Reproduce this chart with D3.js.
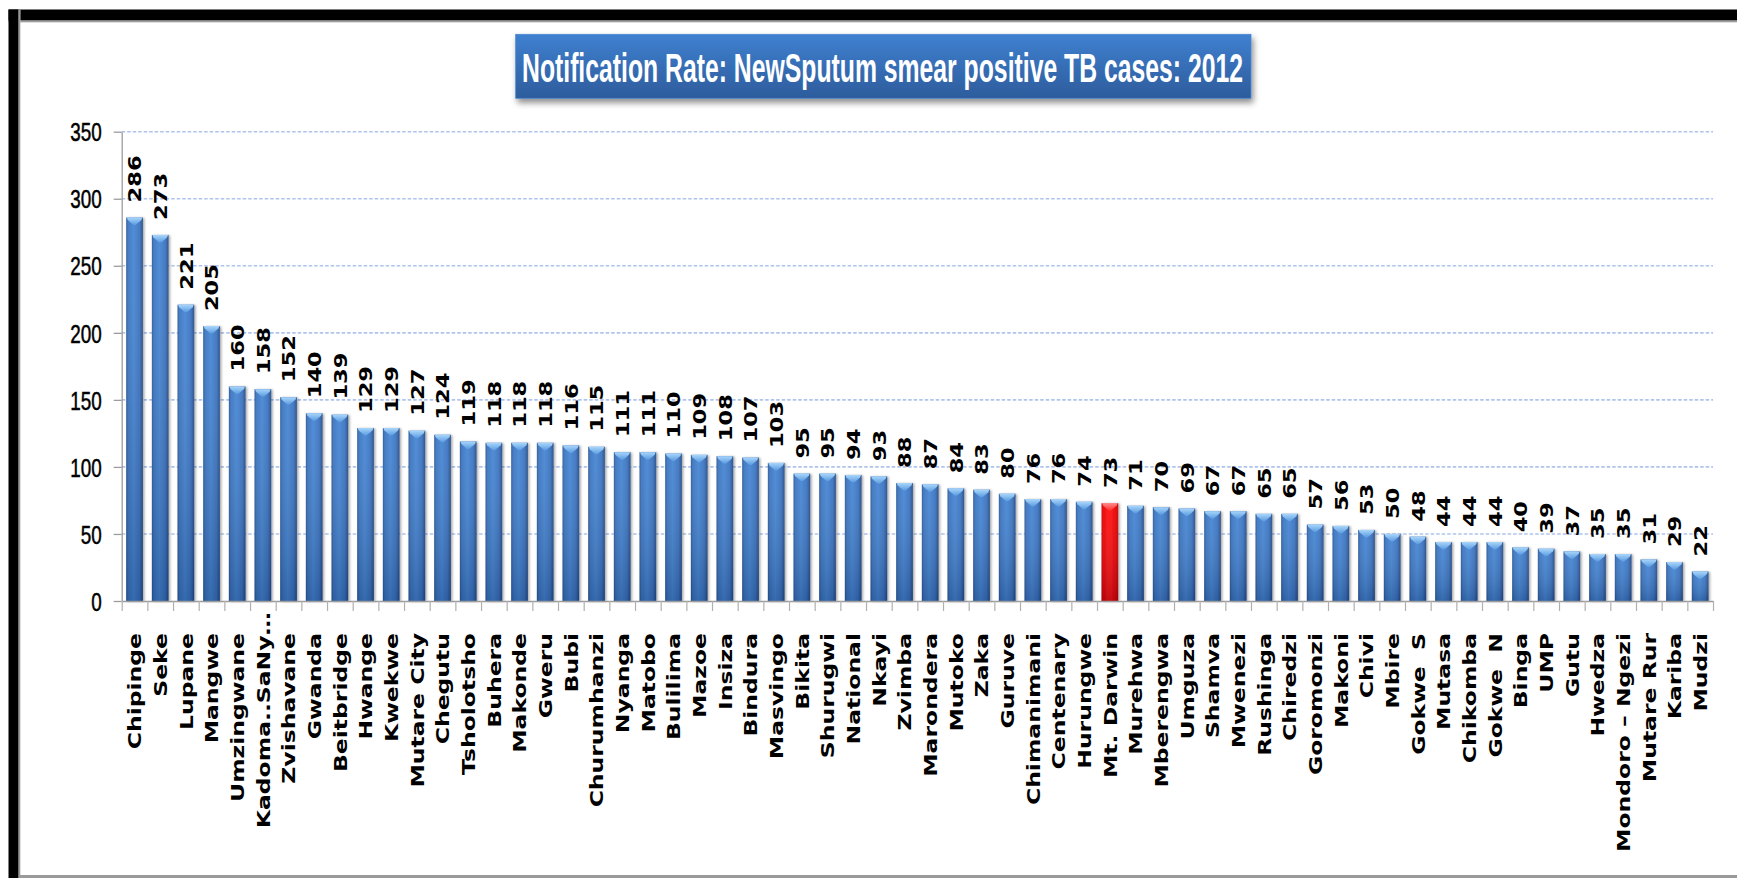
<!DOCTYPE html>
<html>
<head>
<meta charset="utf-8">
<script src="https://cdn.jsdelivr.net/npm/d3@7"></script>
<style>
  html, body { margin: 0; padding: 0; background: #fff; overflow: hidden; }
  svg { display: block; }
</style>
</head>
<body>
<svg id="chart" width="1737" height="878"></svg>
<script>
// Districts ranked by notification rate (new sputum smear positive TB, 2012)
const districts = [
  "Chipinge", "Seke", "Lupane", "Mangwe", "Umzingwane", "Kadoma..SaNy\u2026", "Zvishavane",
  "Gwanda", "Beitbridge", "Hwange", "Kwekwe", "Mutare City", "Chegutu", "Tsholotsho",
  "Buhera", "Makonde", "Gweru", "Bubi", "Churumhanzi", "Nyanga", "Matobo", "Bulilima",
  "Mazoe", "Insiza", "Bindura", "Masvingo", "Bikita", "Shurugwi", "National", "Nkayi",
  "Zvimba", "Marondera", "Mutoko", "Zaka", "Guruve", "Chimanimani", "Centenary",
  "Hurungwe", "Mt. Darwin", "Murehwa", "Mberengwa", "Umguza", "Shamva", "Mwenezi",
  "Rushinga", "Chiredzi", "Goromonzi", "Makoni", "Chivi", "Mbire", "Gokwe  S", "Mutasa",
  "Chikomba", "Gokwe  N", "Binga", "UMP", "Gutu", "Hwedza", "Mondoro \u2013 Ngezi",
  "Mutare Rur", "Kariba", "Mudzi"
];

const rates = [
  286, 273, 221, 205, 160, 158, 152,
  140, 139, 129, 129, 127, 124, 119,
  118, 118, 118, 116, 115, 111, 111, 110,
  109, 108, 107, 103, 95, 95, 94, 93,
  88, 87, 84, 83, 80, 76, 76,
  74, 73, 71, 70, 69, 67, 67,
  65, 65, 57, 56, 53, 50, 48, 44,
  44, 44, 40, 39, 37, 35, 35,
  31, 29, 22
];

const highlightDistrict = "Mt. Darwin";
const yTicks = [0, 50, 100, 150, 200, 250, 300, 350];
const chartTitle = "Notification Rate: NewSputum smear positive TB cases: 2012";

const svg = d3.select("#chart");
const W = 1737, H = 878;
const plot = { left: 121.7, right: 1713, top: 131.7, bottom: 601 };

svg.append("rect").attr("width", W).attr("height", H).attr("fill", "#fff");

// ---------- definitions ----------
const defs = svg.append("defs");

function hGrad(id, stops) {
  const g = defs.append("linearGradient").attr("id", id)
    .attr("x1", "0").attr("y1", "0").attr("x2", "1").attr("y2", "0");
  stops.forEach(([o, c, a]) => g.append("stop").attr("offset", o).attr("stop-color", c)
    .attr("stop-opacity", a == null ? 1 : a));
}
function vGrad(id, stops) {
  const g = defs.append("linearGradient").attr("id", id)
    .attr("x1", "0").attr("y1", "0").attr("x2", "0").attr("y2", "1");
  stops.forEach(([o, c, a]) => g.append("stop").attr("offset", o).attr("stop-color", c)
    .attr("stop-opacity", a == null ? 1 : a));
}

hGrad("barBlue", [["0", "#2a5795"], ["0.12", "#3a74c0"], ["0.45", "#4585d3"], ["0.8", "#3a72bf"], ["1", "#244b85"]]);
hGrad("barRed", [["0", "#c80000"], ["0.12", "#ee0000"], ["0.45", "#ff1010"], ["0.8", "#f00000"], ["1", "#c00000"]]);
vGrad("barShade", [["0", "#ffffff", 0.06], ["1", "#001030", 0.22]]);
vGrad("capBlue", [["0", "#a9d6fb"], ["1", "#5a9be0"]]);
vGrad("capRed", [["0", "#ff8a8a"], ["1", "#ff3030"]]);
vGrad("titleFill", [["0", "#3f80d0"], ["1", "#2d5c9c"]]);
vGrad("frameTop", [["0", "#000"], ["0.78", "#000"], ["0.8", "#6e6e6e"], ["1", "#bdbdbd"]]);
hGrad("frameLeft", [["0", "#000"], ["0.8", "#000"], ["0.82", "#6e6e6e"], ["1", "#bdbdbd"]]);

const shadow = defs.append("filter").attr("id", "boxShadow")
  .attr("x", "-5%").attr("y", "-20%").attr("width", "112%").attr("height", "150%");
shadow.append("feDropShadow").attr("dx", 2).attr("dy", 4).attr("stdDeviation", 3)
  .attr("flood-color", "#000").attr("flood-opacity", 0.45);

const barShadow = defs.append("filter").attr("id", "barShadow")
  .attr("x", "-30%").attr("y", "-5%").attr("width", "170%").attr("height", "115%");
barShadow.append("feDropShadow").attr("dx", 1.5).attr("dy", 0.5).attr("stdDeviation", 1.2)
  .attr("flood-color", "#000").attr("flood-opacity", 0.35);

// ---------- slide frame ----------
svg.append("rect").attr("x", 8.5).attr("y", 9.5).attr("width", W - 8.5).attr("height", 13)
  .attr("fill", "url(#frameTop)");
svg.append("rect").attr("x", 8.5).attr("y", 9.5).attr("width", 12).attr("height", H - 9.5)
  .attr("fill", "url(#frameLeft)");
svg.append("rect").attr("x", 20).attr("y", 875).attr("width", W - 20).attr("height", 3)
  .attr("fill", "#9a9a9a");

// ---------- scales ----------
const x = d3.scaleBand().domain(districts).range([plot.left, plot.right])
  .paddingInner(0.35).paddingOuter(0.175);
const y = d3.scaleLinear().domain([0, 350]).range([plot.bottom, plot.top]);
const edges = d3.scaleLinear().domain([0, districts.length]).range([plot.left, plot.right]);

// ---------- gridlines ----------
svg.append("g").selectAll("line")
  .data(yTicks.filter(t => t > 0))
  .join("line")
  .attr("x1", plot.left).attr("x2", plot.right)
  .attr("y1", d => y(d)).attr("y2", d => y(d))
  .attr("stroke", "#aec4ec").attr("stroke-width", 1.6).attr("stroke-dasharray", "3.5,2");

// ---------- bars ----------
const data = districts.map((name, i) => ({ name, value: rates[i], hot: name === highlightDistrict }));
const bw = x.bandwidth();

const bars = svg.append("g").selectAll("g").data(data).join("g");
bars.append("rect")
  .attr("x", d => x(d.name)).attr("y", d => y(d.value))
  .attr("width", bw).attr("height", d => y(0) - y(d.value))
  .attr("fill", d => d.hot ? "url(#barRed)" : "url(#barBlue)")
  .attr("filter", "url(#barShadow)");
bars.append("rect")
  .attr("x", d => x(d.name)).attr("y", d => y(d.value))
  .attr("width", bw).attr("height", d => y(0) - y(d.value))
  .attr("fill", "url(#barShade)");
bars.append("path")
  .attr("d", d => {
    const x0 = x(d.name), x1 = x0 + bw, t = y(d.value), c = x0 + bw / 2;
    return `M${x0 + 0.5},${t} L${x1 - 0.5},${t} L${x1 - 1.5},${t + 2.5} L${c + 1},${t + 7.5} L${c - 1},${t + 7.5} L${x0 + 1.5},${t + 2.5} Z`;
  })
  .attr("fill", d => d.hot ? "url(#capRed)" : "url(#capBlue)");

// ---------- axes ----------
const yAxis = svg.append("g").attr("transform", `translate(${plot.left},0)`)
  .call(d3.axisLeft(y).tickValues(yTicks).tickSize(8).tickSizeOuter(0).tickFormat(d3.format("d")));
yAxis.select(".domain").attr("stroke", "#9c9c9c").attr("stroke-width", 1.3);
yAxis.selectAll(".tick line").attr("stroke", "#9c9c9c").attr("stroke-width", 1.3);
yAxis.selectAll(".tick text")
  .attr("x", -20 / 0.74).attr("dy", "0.36em")
  .attr("transform", "scale(0.74,1)")
  .attr("fill", "#000").attr("stroke", "#000").attr("stroke-width", 0.5)
  .style("font-family", "'Liberation Sans', Arial, sans-serif")
  .style("font-size", "25.5px");

const xAxis = svg.append("g").attr("transform", `translate(0,${plot.bottom})`)
  .call(d3.axisBottom(edges).tickValues(d3.range(districts.length + 1)).tickSize(10)
    .tickSizeOuter(0).tickFormat(""));
xAxis.select(".domain").attr("stroke", "#9c9c9c").attr("stroke-width", 1.3);
xAxis.selectAll(".tick line").attr("stroke", "#b0b0b0").attr("stroke-width", 1.2);

// ---------- value labels ----------
const labelFont = "'DejaVu Sans', Verdana, sans-serif";
const labelSize = 18.5;
const capHalf = 0.729 * labelSize / 2;
svg.append("g").selectAll("text").data(data).join("text")
  .attr("transform", d => `translate(${x(d.name) + bw / 2 + capHalf},${y(d.value) - 15}) rotate(-90) scale(1.22,1)`)
  .attr("text-anchor", "start")
  .style("font-family", labelFont).style("font-weight", "bold").style("font-size", labelSize + "px")
  .attr("fill", "#000")
  .text(d => d.value);

// ---------- category labels ----------
svg.append("g").selectAll("text").data(data).join("text")
  .attr("transform", d => {
    const top = d.name.endsWith("\u2026") ? plot.bottom + 11 : plot.bottom + 32;
    return `translate(${x(d.name) + bw / 2 + capHalf},${top}) rotate(-90) scale(1.27,1)`;
  })
  .attr("text-anchor", "end")
  .style("font-family", labelFont).style("font-weight", "bold").style("font-size", labelSize + "px")
  .style("white-space", "pre")
  .attr("fill", "#000")
  .text(d => d.name);

// ---------- title banner ----------
const title = svg.append("g");
title.append("rect")
  .attr("x", 515.7).attr("y", 34.3).attr("width", 735.3).attr("height", 64)
  .attr("fill", "url(#titleFill)").attr("stroke", "#4a86cf").attr("stroke-width", 0.8)
  .attr("filter", "url(#boxShadow)");
title.append("text")
  .attr("x", 522).attr("y", 81.7)
  .attr("textLength", 721).attr("lengthAdjust", "spacingAndGlyphs")
  .style("font-family", "'Liberation Sans Narrow', 'Liberation Sans', Arial, sans-serif")
  .style("font-weight", "bold").style("font-size", "40px")
  .attr("fill", "#fff")
  .text(chartTitle);
</script>
</body>
</html>
